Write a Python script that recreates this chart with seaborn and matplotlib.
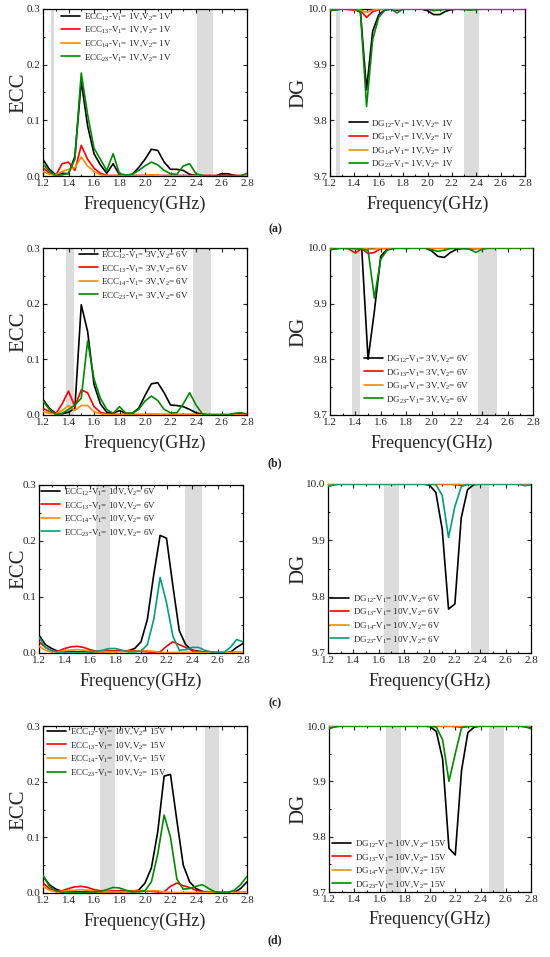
import matplotlib
matplotlib.use('Agg')
import matplotlib.pyplot as plt
import seaborn as sns
from matplotlib.ticker import MultipleLocator

freq = [1.2, 1.25, 1.3, 1.35, 1.4, 1.45, 1.5, 1.55, 1.6, 1.65, 1.7,
        1.75, 1.8, 1.85, 1.9, 1.95, 2.0, 2.05, 2.1, 2.15, 2.2, 2.25,
        2.3, 2.35, 2.4, 2.45, 2.5, 2.55, 2.6, 2.65, 2.7, 2.75, 2.8]

# (a) V1 = 1V, V2 = 1V
ecc_a_12 = [0.030, 0.012, 0.002, 0.005, 0.004, 0.035, 0.170, 0.090, 0.040, 0.020, 0.005,
            0.022, 0.002, 0.001, 0.003, 0.015, 0.030, 0.048, 0.046, 0.025, 0.012, 0.012,
            0.010, 0.003, 0.001, 0.000, 0.000, 0.000, 0.004, 0.004, 0.001, 0.000, 0.000]
ecc_a_13 = [0.015, 0.005, 0.001, 0.022, 0.025, 0.010, 0.055, 0.030, 0.014, 0.005, 0.001,
            0.001, 0.001, 0.001, 0.001, 0.001, 0.001, 0.001, 0.001, 0.001, 0.001, 0.001,
            0.001, 0.001, 0.001, 0.001, 0.001, 0.001, 0.001, 0.001, 0.001, 0.001, 0.001]
ecc_a_14 = [0.008, 0.003, 0.002, 0.008, 0.012, 0.015, 0.034, 0.018, 0.008, 0.002, 0.000,
            0.000, 0.000, 0.000, 0.000, 0.000, 0.001, 0.002, 0.001, 0.000, 0.000, 0.000,
            0.000, 0.000, 0.000, 0.000, 0.000, 0.000, 0.000, 0.000, 0.000, 0.000, 0.000]
ecc_a_23 = [0.022, 0.008, 0.001, 0.002, 0.005, 0.030, 0.185, 0.110, 0.050, 0.030, 0.010,
            0.040, 0.004, 0.002, 0.003, 0.010, 0.018, 0.025, 0.020, 0.010, 0.004, 0.003,
            0.018, 0.022, 0.004, 0.001, 0.000, 0.000, 0.000, 0.000, 0.000, 0.000, 0.005]
dg_a_12 = [9.997, 9.999, 10.0, 10.0, 10.0, 9.994, 9.855, 9.960, 9.990, 9.998, 10.0,
           9.998, 10.0, 10.0, 10.0, 10.0, 9.997, 9.990, 9.990, 9.996, 9.999, 10.0,
           10.0, 10.0, 10.0, 10.0, 10.0, 10.0, 10.0, 10.0, 10.0, 10.0, 10.0]
dg_a_13 = [10.0, 10.0, 10.0, 9.999, 9.998, 9.997, 9.985, 9.995, 9.999, 10.0, 10.0,
           10.0, 10.0, 10.0, 10.0, 10.0, 10.0, 10.0, 10.0, 10.0, 10.0, 10.0,
           10.0, 10.0, 10.0, 10.0, 10.0, 10.0, 10.0, 10.0, 10.0, 10.0, 10.0]
dg_a_14 = [10.0, 10.0, 10.0, 10.0, 9.999, 9.998, 9.994, 9.998, 10.0, 10.0, 10.0,
           10.0, 10.0, 10.0, 10.0, 10.0, 10.0, 10.0, 10.0, 10.0, 10.0, 10.0,
           10.0, 10.0, 10.0, 10.0, 10.0, 10.0, 10.0, 10.0, 10.0, 10.0, 10.0]
dg_a_23 = [9.997, 9.999, 10.0, 10.0, 10.0, 9.995, 9.825, 9.945, 9.985, 9.998, 10.0,
           9.993, 10.0, 10.0, 10.0, 10.0, 10.0, 9.997, 9.998, 10.0, 10.0, 10.0,
           9.999, 9.998, 9.999, 10.0, 10.0, 10.0, 10.0, 10.0, 10.0, 10.0, 10.0]

# (b) V1 = 3V, V2 = 6V
ecc_b_12 = [0.028, 0.012, 0.003, 0.002, 0.005, 0.012, 0.198, 0.150, 0.055, 0.020, 0.005,
            0.003, 0.008, 0.003, 0.003, 0.012, 0.035, 0.056, 0.058, 0.040, 0.018, 0.017,
            0.015, 0.010, 0.004, 0.001, 0.000, 0.000, 0.000, 0.000, 0.002, 0.003, 0.001]
ecc_b_13 = [0.012, 0.006, 0.002, 0.020, 0.043, 0.015, 0.045, 0.040, 0.015, 0.005, 0.002,
            0.001, 0.001, 0.001, 0.001, 0.001, 0.001, 0.001, 0.001, 0.001, 0.001, 0.001,
            0.001, 0.001, 0.001, 0.001, 0.001, 0.001, 0.001, 0.001, 0.001, 0.001, 0.001]
ecc_b_14 = [0.006, 0.003, 0.002, 0.008, 0.017, 0.008, 0.017, 0.017, 0.006, 0.002, 0.001,
            0.000, 0.000, 0.000, 0.000, 0.000, 0.001, 0.002, 0.001, 0.000, 0.000, 0.000,
            0.000, 0.000, 0.000, 0.000, 0.000, 0.000, 0.000, 0.000, 0.000, 0.000, 0.000]
ecc_b_23 = [0.025, 0.010, 0.001, 0.003, 0.010, 0.018, 0.030, 0.133, 0.065, 0.030, 0.010,
            0.003, 0.015, 0.003, 0.003, 0.010, 0.025, 0.034, 0.026, 0.010, 0.004, 0.004,
            0.020, 0.040, 0.018, 0.002, 0.000, 0.000, 0.000, 0.000, 0.003, 0.004, 0.002]
dg_b_12 = [9.997, 9.999, 10.0, 10.0, 10.0, 9.999, 9.800, 9.887, 9.985, 9.998, 10.0,
           10.0, 10.0, 10.0, 10.0, 10.0, 9.995, 9.985, 9.983, 9.992, 9.998, 9.999,
           9.999, 9.999, 10.0, 10.0, 10.0, 10.0, 10.0, 10.0, 10.0, 10.0, 10.0]
dg_b_13 = [10.0, 10.0, 10.0, 9.998, 9.991, 9.999, 9.990, 9.992, 9.999, 10.0, 10.0,
           10.0, 10.0, 10.0, 10.0, 10.0, 10.0, 10.0, 10.0, 10.0, 10.0, 10.0,
           10.0, 10.0, 10.0, 10.0, 10.0, 10.0, 10.0, 10.0, 10.0, 10.0, 10.0]
dg_b_14 = [10.0, 10.0, 10.0, 10.0, 9.998, 10.0, 9.998, 9.998, 10.0, 10.0, 10.0,
           10.0, 10.0, 10.0, 10.0, 10.0, 10.0, 10.0, 10.0, 10.0, 10.0, 10.0,
           10.0, 10.0, 10.0, 10.0, 10.0, 10.0, 10.0, 10.0, 10.0, 10.0, 10.0]
dg_b_23 = [9.997, 9.999, 10.0, 10.0, 9.999, 9.998, 9.996, 9.910, 9.980, 9.996, 9.999,
           10.0, 9.999, 10.0, 10.0, 10.0, 9.997, 9.994, 9.996, 9.999, 10.0, 10.0,
           9.998, 9.992, 9.998, 10.0, 10.0, 10.0, 10.0, 10.0, 10.0, 10.0, 10.0]

# (c) V1 = 10V, V2 = 6V
ecc_c_12 = [0.032, 0.015, 0.008, 0.003, 0.002, 0.002, 0.002, 0.002, 0.002, 0.002, 0.002,
            0.003, 0.003, 0.003, 0.004, 0.008, 0.020, 0.060, 0.140, 0.210, 0.205, 0.120,
            0.040, 0.015, 0.005, 0.003, 0.002, 0.001, 0.001, 0.000, 0.001, 0.010, 0.017]
ecc_c_13 = [0.020, 0.010, 0.004, 0.003, 0.008, 0.011, 0.012, 0.010, 0.006, 0.003, 0.003,
            0.004, 0.004, 0.004, 0.004, 0.004, 0.003, 0.002, 0.001, 0.002, 0.012, 0.020,
            0.015, 0.010, 0.005, 0.002, 0.001, 0.001, 0.001, 0.001, 0.001, 0.001, 0.001]
ecc_c_14 = [0.012, 0.005, 0.002, 0.002, 0.004, 0.005, 0.006, 0.005, 0.003, 0.002, 0.002,
            0.002, 0.002, 0.002, 0.003, 0.003, 0.004, 0.004, 0.003, 0.001, 0.001, 0.001,
            0.001, 0.001, 0.001, 0.001, 0.001, 0.001, 0.001, 0.001, 0.001, 0.001, 0.001]
ecc_c_23 = [0.028, 0.010, 0.004, 0.001, 0.001, 0.001, 0.001, 0.001, 0.002, 0.003, 0.005,
            0.008, 0.008, 0.005, 0.002, 0.002, 0.003, 0.015, 0.060, 0.135, 0.090, 0.030,
            0.005, 0.006, 0.010, 0.010, 0.005, 0.002, 0.001, 0.001, 0.010, 0.024, 0.020]
dg_c_12 = [9.996, 9.999, 10.0, 10.0, 10.0, 10.0, 10.0, 10.0, 10.0, 10.0, 10.0,
           10.0, 10.0, 10.0, 10.0, 10.0, 9.998, 9.985, 9.920, 9.778, 9.787, 9.940,
           9.990, 9.999, 10.0, 10.0, 10.0, 10.0, 10.0, 10.0, 10.0, 9.999, 9.999]
dg_c_13 = [9.998, 10.0, 10.0, 10.0, 10.0, 10.0, 10.0, 10.0, 10.0, 10.0, 10.0,
           10.0, 10.0, 10.0, 10.0, 10.0, 10.0, 10.0, 10.0, 10.0, 9.999, 9.998,
           9.999, 10.0, 10.0, 10.0, 10.0, 10.0, 10.0, 10.0, 10.0, 10.0, 10.0]
dg_c_14 = [9.999, 10.0, 10.0, 10.0, 10.0, 10.0, 10.0, 10.0, 10.0, 10.0, 10.0,
           10.0, 10.0, 10.0, 10.0, 10.0, 10.0, 10.0, 10.0, 10.0, 10.0, 10.0,
           10.0, 10.0, 10.0, 10.0, 10.0, 10.0, 10.0, 10.0, 10.0, 10.0, 10.0]
dg_c_23 = [9.996, 9.999, 10.0, 10.0, 10.0, 10.0, 10.0, 10.0, 10.0, 10.0, 10.0,
           10.0, 10.0, 10.0, 10.0, 10.0, 10.0, 9.999, 9.980, 9.905, 9.960, 9.995,
           10.0, 10.0, 10.0, 10.0, 10.0, 10.0, 10.0, 10.0, 10.0, 9.997, 9.998]

# (d) V1 = 10V, V2 = 15V
ecc_d_12 = [0.030, 0.015, 0.007, 0.003, 0.002, 0.002, 0.002, 0.002, 0.002, 0.002, 0.002,
            0.002, 0.002, 0.002, 0.003, 0.005, 0.018, 0.045, 0.110, 0.210, 0.213, 0.130,
            0.050, 0.020, 0.008, 0.003, 0.001, 0.001, 0.001, 0.001, 0.001, 0.008, 0.020]
ecc_d_13 = [0.018, 0.008, 0.003, 0.004, 0.008, 0.011, 0.012, 0.010, 0.006, 0.004, 0.003,
            0.004, 0.004, 0.004, 0.004, 0.004, 0.003, 0.003, 0.002, 0.002, 0.012, 0.018,
            0.013, 0.010, 0.005, 0.002, 0.001, 0.001, 0.001, 0.001, 0.001, 0.001, 0.001]
ecc_d_14 = [0.012, 0.005, 0.002, 0.003, 0.004, 0.005, 0.006, 0.005, 0.003, 0.002, 0.002,
            0.002, 0.002, 0.002, 0.003, 0.003, 0.004, 0.004, 0.004, 0.002, 0.001, 0.001,
            0.001, 0.001, 0.001, 0.001, 0.001, 0.001, 0.001, 0.001, 0.001, 0.001, 0.001]
ecc_d_23 = [0.032, 0.012, 0.004, 0.001, 0.001, 0.001, 0.001, 0.001, 0.002, 0.003, 0.006,
            0.010, 0.009, 0.005, 0.002, 0.002, 0.004, 0.020, 0.070, 0.140, 0.100, 0.025,
            0.007, 0.008, 0.012, 0.015, 0.008, 0.002, 0.001, 0.001, 0.005, 0.015, 0.030]
dg_d_12 = [9.996, 9.999, 10.0, 10.0, 10.0, 10.0, 10.0, 10.0, 10.0, 10.0, 10.0,
           10.0, 10.0, 10.0, 10.0, 10.0, 9.999, 9.990, 9.940, 9.779, 9.767, 9.920,
           9.988, 9.998, 10.0, 10.0, 10.0, 10.0, 10.0, 10.0, 10.0, 9.999, 9.998]
dg_d_13 = [9.998, 10.0, 10.0, 10.0, 10.0, 10.0, 10.0, 10.0, 10.0, 10.0, 10.0,
           10.0, 10.0, 10.0, 10.0, 10.0, 10.0, 10.0, 10.0, 10.0, 9.999, 9.998,
           9.999, 10.0, 10.0, 10.0, 10.0, 10.0, 10.0, 10.0, 10.0, 10.0, 10.0]
dg_d_14 = [9.999, 10.0, 10.0, 10.0, 10.0, 10.0, 10.0, 10.0, 10.0, 10.0, 10.0,
           10.0, 10.0, 10.0, 10.0, 10.0, 10.0, 10.0, 10.0, 10.0, 10.0, 10.0,
           10.0, 10.0, 10.0, 10.0, 10.0, 10.0, 10.0, 10.0, 10.0, 10.0, 10.0]
dg_d_23 = [9.995, 9.999, 10.0, 10.0, 10.0, 10.0, 10.0, 10.0, 10.0, 10.0, 10.0,
           10.0, 10.0, 10.0, 10.0, 10.0, 10.0, 9.998, 9.975, 9.900, 9.950, 9.997,
           10.0, 10.0, 10.0, 10.0, 10.0, 10.0, 10.0, 10.0, 10.0, 9.999, 9.995]

pairs = ['12', '13', '14', '23']
bias = {'a': ('1V', '1V'), 'b': ('3V', '6V'), 'c': ('10V', '6V'), 'd': ('10V', '15V')}
bands = {
    ('a', 'ECC'): [(1.26, 1.29), (2.41, 2.53)],
    ('a', 'DG'): [(1.25, 1.285), (2.30, 2.425)],
    ('b', 'ECC'): [(1.38, 1.44), (2.38, 2.52)],
    ('b', 'DG'): [(1.375, 1.435), (2.37, 2.52)],
    ('c', 'ECC'): [(1.645, 1.76), (2.345, 2.48)],
    ('c', 'DG'): [(1.64, 1.76), (2.33, 2.47)],
    ('d', 'ECC'): [(1.645, 1.765), (2.47, 2.58)],
    ('d', 'DG'): [(1.65, 1.77), (2.47, 2.59)],
}
series = {
    ('a', 'ECC'): [ecc_a_12, ecc_a_13, ecc_a_14, ecc_a_23],
    ('a', 'DG'): [dg_a_12, dg_a_13, dg_a_14, dg_a_23],
    ('b', 'ECC'): [ecc_b_12, ecc_b_13, ecc_b_14, ecc_b_23],
    ('b', 'DG'): [dg_b_12, dg_b_13, dg_b_14, dg_b_23],
    ('c', 'ECC'): [ecc_c_12, ecc_c_13, ecc_c_14, ecc_c_23],
    ('c', 'DG'): [dg_c_12, dg_c_13, dg_c_14, dg_c_23],
    ('d', 'ECC'): [ecc_d_12, ecc_d_13, ecc_d_14, ecc_d_23],
    ('d', 'DG'): [dg_d_12, dg_d_13, dg_d_14, dg_d_23],
}

# pixel boxes (left, top, right, bottom) and legend anchors in axes coords
boxes = {
    ('a', 'ECC'): (43, 9, 247, 176), ('a', 'DG'): (330, 9, 525, 176),
    ('b', 'ECC'): (43, 248, 247, 415), ('b', 'DG'): (330, 248, 533, 415),
    ('c', 'ECC'): (39, 485, 243, 653), ('c', 'DG'): (328, 484, 531, 653),
    ('d', 'ECC'): (43, 726, 247, 893), ('d', 'DG'): (329, 726, 531, 892),
}
leg_pos = {
    ('a', 'ECC'): (0.088, 0.985), ('a', 'DG'): (0.097, 0.345),
    ('b', 'ECC'): (0.176, 0.99), ('b', 'DG'): (0.167, 0.368),
    ('c', 'ECC'): (0.01, 0.99), ('c', 'DG'): (0.01, 0.352),
    ('d', 'ECC'): (0.02, 0.995), ('d', 'DG'): (0.015, 0.322),
}
panel_label_y = {'a': 229, 'b': 463, 'c': 703, 'd': 940}

sns.set_style('ticks')
plt.rcParams['font.family'] = ['Liberation Serif', 'DejaVu Serif']
plt.rcParams['mathtext.default'] = 'regular'
plt.rcParams['xtick.direction'] = 'in'
plt.rcParams['ytick.direction'] = 'in'

W, H = 550, 957
fig = plt.figure(figsize=(5.5, 9.57), dpi=100)

for row in ['a', 'b', 'c', 'd']:
    v1, v2 = bias[row]
    for kind in ['ECC', 'DG']:
        l, t, r, b = boxes[(row, kind)]
        ax = fig.add_axes([l / W, 1 - b / H, (r - l) / W, (b - t) / H])
        for lo, hi in bands[(row, kind)]:
            ax.axvspan(lo, hi, color='#dcdcdc', lw=0, zorder=0)
        green = '#00a07a' if row == 'c' else '#008a00'
        colors = ['#000000', '#ff0000', '#ff8c00', green]
        for vals, pair, col in zip(series[(row, kind)], pairs, colors):
            lab = f'{kind}$_{{{pair}}}$-V$_1$= {v1},V$_2$= {v2}'
            sns.lineplot(x=freq, y=vals, ax=ax, color=col, lw=1.2, label=lab, zorder=3)
        ax.set_xlim(1.2, 2.8)
        if kind == 'ECC':
            ax.set_ylim(0, 0.3)
            ylab_x = -(l - 28) / (r - l)
        else:
            ax.set_ylim(9.7, 10.0)
            ylab_x = -(l - 308) / (r - l)
        ax.yaxis.set_major_locator(MultipleLocator(0.1))
        ax.yaxis.set_minor_locator(MultipleLocator(0.05))
        ax.yaxis.set_major_formatter('{x:.1f}')
        ax.xaxis.set_major_locator(MultipleLocator(0.2))
        ax.xaxis.set_minor_locator(MultipleLocator(0.1))
        ax.xaxis.set_major_formatter('{x:.1f}')
        ax.tick_params(which='both', top=True, right=True, labelsize=8, width=0.8, pad=2)
        ax.tick_params(which='major', length=3)
        ax.tick_params(which='minor', length=1.5)
        for sp in ax.spines.values():
            sp.set_linewidth(0.9)
            sp.set_color('black')
        ax.set_xlabel('Frequency(GHz)', fontsize=13)
        ax.set_ylabel(kind, fontsize=15)
        ax.xaxis.set_label_coords(0.5, -0.115)
        ax.yaxis.set_label_coords(ylab_x, 0.5)
        ax.legend(loc='upper left', bbox_to_anchor=leg_pos[(row, kind)], frameon=False,
                  fontsize=6.5, borderaxespad=0, borderpad=0, handlelength=2.1,
                  handletextpad=0.4, labelspacing=0.35)
    fig.text(275 / W, 1 - panel_label_y[row] / H, f'({row})', ha='center', va='center',
             fontsize=8.5, fontweight='bold')

fig.savefig('out.png', dpi=100)
